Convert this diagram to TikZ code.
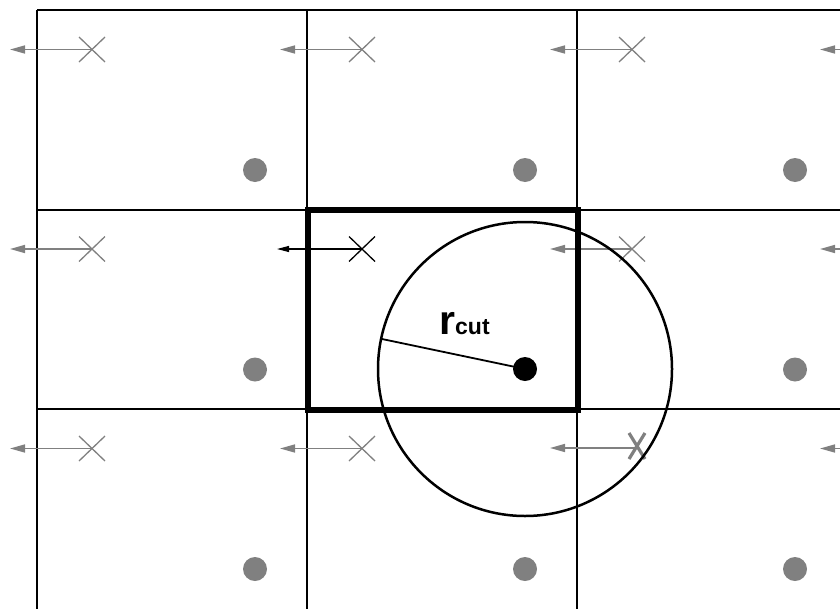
\documentclass[tikz,border=0pt]{standalone}
\usepackage{fontspec}
\setmainfont{Liberation Sans}
\usetikzlibrary{arrows.meta,calc}
\definecolor{pgray}{RGB}{128,128,128}
\tikzset{
  grid line/.style={line width=2pt, black},
  box line/.style={line width=6pt, black, line cap=round},
  cross line/.style={line width=1.3pt, pgray},
  move arrow/.style={line width=1.6pt, pgray, -{Triangle[length=15pt,width=8pt]}},
  dotmark/.style={fill=pgray, draw=none},
}
\begin{document}
\begin{tikzpicture}[x=1pt,y=-1pt]
\useasboundingbox (0,0) rectangle (840,608);
\clip (0,0) rectangle (840,608);
% grid
\foreach \yy in {10,209.5,409} \draw[grid line] (37,\yy) -- (845,\yy);
\foreach \xx in {37,307,577} \draw[grid line] (\xx,10) -- (\xx,612);
% crosses, arrows, dots
\foreach \i in {0,1,2,3}{
  \foreach \j in {0,1,2}{
    \pgfmathsetmacro{\xo}{37+270*\i}
    \pgfmathsetmacro{\yo}{10+199.5*\j}
    \pgfmathsetmacro{\cx}{\xo+55}
    \pgfmathsetmacro{\cy}{\yo+39.5}
    \pgfmathsetmacro{\tx}{\xo-27}
    \pgfmathsetmacro{\dx}{\xo+218}
    \pgfmathsetmacro{\dy}{\yo+160}
    \ifnum\i=1 \ifnum\j=1 \def\skipit{1}\else\def\skipit{0}\fi\else\def\skipit{0}\fi
    \ifnum\i=2 \ifnum\j=2 \def\skipit{1}\fi\fi
    \ifnum\skipit=0
      \coordinate (c\i\j) at (\cx,\cy);
      \coordinate (t\i\j) at (\tx,\cy);
      \draw[cross line] ($(c\i\j)+(-13,-12.5)$) -- ($(c\i\j)+(13,12.5)$);
      \draw[cross line] ($(c\i\j)+(-13,12.5)$) -- ($(c\i\j)+(13,-12.5)$);
      \draw[move arrow] (c\i\j) -- (t\i\j);
    \fi
    \ifnum\i=1 \ifnum\j=1 \else \fill[dotmark] (\dx,\dy) circle (12);\fi
    \else \fill[dotmark] (\dx,\dy) circle (12);\fi
  }
}
% central cell cross (black)
\coordinate (cc) at (362,249);
\coordinate (ct) at (277,249);
\draw[line width=1.3pt] (349,236.5) -- (375,261.5);
\draw[line width=1.3pt] (349,261.5) -- (375,236.5);
\draw[line width=1.1pt, -{Triangle[length=12pt,width=6pt]}] (cc) -- (ct);
% special X in bottom row third column
\coordinate (sx) at (637,448);
\coordinate (st) at (550,448);
\draw[move arrow] (sx) -- (st);
\draw[line width=3.2pt, pgray] (629,433) -- (645,459);
\draw[line width=3.2pt, pgray] (629,459) -- (645,433);
% thick central box
\draw[box line] (307.5,209.5) rectangle (577.5,409.5);
% cutoff circle
\coordinate (ctr) at (525,369);
\draw[line width=2.5pt] (ctr) circle (147);
\draw[line width=1.8pt] (ctr) -- (382,339);
\fill (ctr) circle (12);
\node[anchor=base west, inner sep=0pt, font=\bfseries] (rc) at (439,334)
  {\fontsize{41}{41}\selectfont r\fontsize{23}{23}\selectfont cut};
\end{tikzpicture}
\end{document}
